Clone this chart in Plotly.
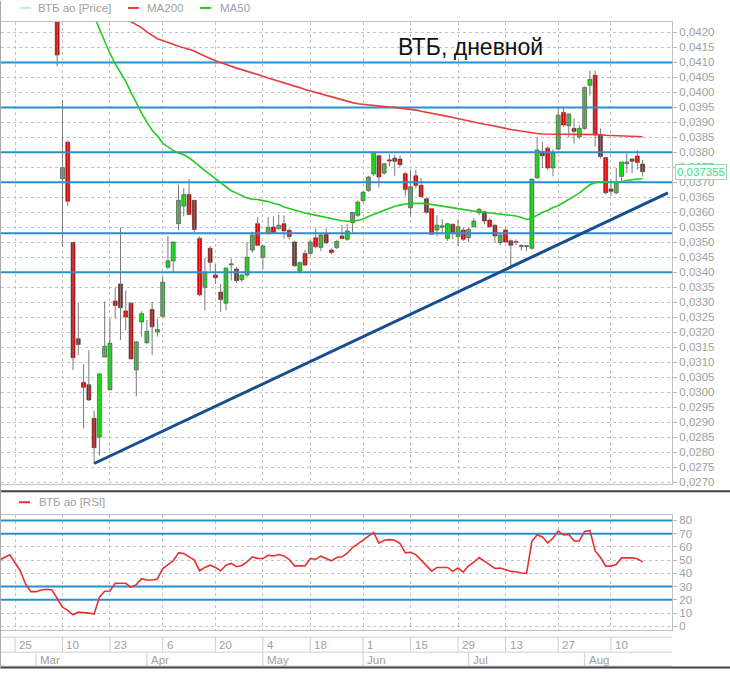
import pandas as pd
import plotly.graph_objects as go

# ---------------- data ----------------
holidays = ["2020-02-24", "2020-03-09", "2020-05-01", "2020-05-11",
            "2020-06-12", "2020-06-24", "2020-07-01"]
calendar = [d.strftime("%Y-%m-%d") for d in pd.bdate_range("2020-02-19", "2020-08-18")
            if d.strftime("%Y-%m-%d") not in holidays]
pos = {d: i for i, d in enumerate(calendar)}

candle_start = "2020-03-06"
opens = [
    .04290, .03712, .03834, .03499, .03178, .03033, .03025, .02913, .02850, .03117,
    .03008, .03304, .03361, .03271, .03297, .03074, .03234, .03165, .03276, .03201,
    .03253, .03417, .03438, .03562, .03621, .03659, .03640, .03513, .03350, .03480,
    .03391, .03334, .03297, .03425, .03411, .03375, .03391, .03474, .03562, .03450,
    .03532, .03551, .03546, .03562, .03540, .03501, .03404, .03463, .03463, .03515,
    .03483, .03527, .03474, .03483, .03521, .03510, .03566, .03590, .03639, .03673,
    .03728, .03789, .03731, .03775, .03781, .03778, .03729, .03615, .03722, .03690,
    .03645, .03612, .03541, .03550, .03513, .03560, .03519, .03541, .03516, .03552,
    .03599, .03602, .03574, .03557, .03499, .03541, .03505, .03500, .03487, .03486,
    .03480, .03715, .03803, .03814, .03748, .03811, .03933, .03889, .03880, .03852,
    .03880, .04024, .04057, .03858, .03783, .03678, .03665, .03720, .03762, .03778,
    .03788, .03761]
highs = [
    .04330, .03974, .03840, .03502, .03298, .03093, .03140, .02938, .03061, .03303,
    .03245, .03350, .03549, .03339, .03300, .03168, .03270, .03240, .03301, .03245,
    .03387, .03521, .03501, .03692, .03681, .03711, .03640, .03520, .03447, .03488,
    .03427, .03361, .03414, .03446, .03417, .03394, .03501, .03535, .03584, .03490,
    .03584, .03587, .03592, .03590, .03546, .03506, .03436, .03475, .03508, .03546,
    .03530, .03546, .03480, .03508, .03557, .03560, .03602, .03640, .03670, .03722,
    .03802, .03792, .03765, .03794, .03792, .03790, .03735, .03742, .03742, .03715,
    .03650, .03615, .03590, .03577, .03565, .03563, .03577, .03550, .03550, .03580,
    .03615, .03606, .03580, .03560, .03528, .03550, .03510, .03510, .03494, .03490,
    .03711, .03850, .03836, .03820, .03810, .03952, .03952, .03930, .03913, .03890,
    .04020, .04073, .04073, .03880, .03785, .03709, .03748, .03768, .03797, .03780,
    .03808, .03775]
lows = [
    .04087, .03484, .03621, .03074, .03124, .02879, .02970, .02762, .02789, .03117,
    .03008, .03245, .03174, .03207, .03111, .02986, .03185, .03160, .03124, .03185,
    .03250, .03410, .03398, .03540, .03587, .03593, .03534, .03320, .03273, .03405,
    .03361, .03268, .03273, .03372, .03365, .03367, .03383, .03465, .03488, .03411,
    .03525, .03528, .03540, .03512, .03510, .03418, .03396, .03420, .03455, .03480,
    .03470, .03494, .03460, .03478, .03510, .03505, .03532, .03585, .03632, .03668,
    .03722, .03683, .03725, .03753, .03722, .03750, .03654, .03585, .03680, .03650,
    .03595, .03527, .03520, .03527, .03505, .03510, .03488, .03505, .03500, .03550,
    .03590, .03560, .03548, .03500, .03490, .03498, .03422, .03490, .03472, .03470,
    .03475, .03712, .03748, .03740, .03720, .03808, .03885, .03850, .03830, .03845,
    .03875, .03990, .03819, .03780, .03660, .03654, .03660, .03703, .03731, .03730,
    .03742, .03720]
closes = [
    .04125, .03749, .03637, .03115, .03159, .03016, .02974, .02815, .03061, .03153,
    .03163, .03289, .03282, .03251, .03111, .03168, .03262, .03203, .03218, .03209,
    .03367, .03438, .03501, .03640, .03659, .03593, .03543, .03325, .03400, .03433,
    .03382, .03309, .03414, .03428, .03372, .03391, .03450, .03524, .03490, .03488,
    .03549, .03532, .03557, .03538, .03519, .03422, .03432, .03424, .03501, .03485,
    .03524, .03498, .03466, .03503, .03513, .03538, .03599, .03634, .03667, .03718,
    .03801, .03718, .03762, .03771, .03770, .03759, .03676, .03685, .03690, .03652,
    .03600, .03527, .03557, .03555, .03562, .03532, .03552, .03510, .03543, .03571,
    .03610, .03571, .03552, .03521, .03524, .03501, .03490, .03501, .03486, .03487,
    .03711, .03808, .03789, .03748, .03797, .03924, .03891, .03928, .03870, .03880,
    .04016, .04043, .03858, .03786, .03665, .03670, .03703, .03768, .03768, .03770,
    .03766, .037355]

ma200_start = "2020-03-26"
ma200 = [
    .04245, .04235, .04225, .04216, .04202, .04189, .04179, .04173, .04166, .04159,
    .04154, .04149, .04144, .04138, .04129, .04121, .04113, .04106, .04100, .04093,
    .04086, .04081, .04076, .04071, .04065, .04059, .04054, .04048, .04043, .04038,
    .04033, .04028, .04023, .04016, .04010, .04005, .03999, .03994, .03989, .03984,
    .03979, .03974, .03970, .03966, .03962, .03960, .03957, .03955, .03954, .03953,
    .03951, .03950, .03948, .03946, .03944, .03941, .03937, .03934, .03931, .03927,
    .03923, .03920, .03916, .03912, .03909, .03905, .03902, .03898, .03894, .03891,
    .03888, .03884, .03880, .03876, .03873, .03870, .03867, .03865, .03863, .03861,
    .03861, .03860, .03860, .03860, .03861, .03861, .03861, .03861, .03861, .03860,
    .03859, .03857, .03856, .03855, .03855, .03854, .03853, .03853, .03852]

ma50_start = "2020-03-17"
ma50 = [
    .04338, .04255, .04212, .04169, .04130, .04095, .04067, .04037, .04000, .03964,
    .03931, .03901, .03874, .03855, .03831, .03818, .03806, .03798, .03792, .03782,
    .03769, .03754, .03739, .03726, .03712, .03699, .03684, .03672, .03664, .03656,
    .03648, .03644, .03643, .03639, .03636, .03630, .03626, .03618, .03613, .03607,
    .03601, .03598, .03594, .03590, .03587, .03583, .03579, .03576, .03572, .03570,
    .03570, .03573, .03578, .03586, .03593, .03600, .03606, .03613, .03620, .03624,
    .03628, .03629, .03630, .03630, .03629, .03626, .03623, .03621, .03617, .03615,
    .03611, .03608, .03606, .03604, .03602, .03600, .03599, .03596, .03593, .03592,
    .03590, .03588, .03583, .03576, .03580, .03590, .03600, .03606, .03616, .03622,
    .03632, .03644, .03654, .03664, .03679, .03692, .03699, .03701, .03702, .03702,
    .03702, .03702, .03706, .03709, .03711, .03712]

rsi_start = "2020-02-19"
rsi = [
    50, 52, 54, 48, 42, 32, 26.2, 26.2, 27.5, 28,
    27.5, 21, 14.5, 12, 8.7, 10.7, 10.5, 10, 9.2, 22,
    26.5, 26.7, 32.5, 32.5, 32.5, 29.5, 31.5, 36, 35, 35,
    35.7, 43.7, 46.5, 49.5, 55.5, 55, 52.5, 50, 42, 44.5,
    46.2, 44.5, 42, 46.2, 47.5, 45, 46, 48.7, 52.5, 51.2,
    51.2, 53.7, 53.2, 54.2, 53.2, 50.5, 45.7, 45.7, 45.7, 51.2,
    50.7, 53, 51, 49.5, 52, 52.5, 55.2, 59.5, 62.3, 65,
    68, 71, 62.8, 65, 65.5, 65, 62.5, 55.5, 56, 54.2,
    50, 45.5, 41.7, 44.5, 44.5, 44.5, 41.5, 44, 41, 45.7,
    48.5, 52, 49.2, 46.3, 43.7, 44, 42.5, 41.5, 41.2, 40.3,
    40, 64.2, 69.2, 67.5, 63, 66.5, 72, 69, 69.5, 64.5,
    64.5, 71.7, 72.5, 57, 52, 45.5, 45.5, 46.7, 51.7, 51.7,
    51.7, 51, 48.7]

price_levels = [0.0410, 0.0395, 0.0380, 0.0370, 0.0353, 0.0340]
rsi_levels = [80, 70, 30, 20]
trend_dates = ["2020-03-18", "2020-08-18"]
trend_extra = [0, 4.8]
trend_values = [0.02762, 0.03665]

day_tick_dates = ["2020-02-25", "2020-03-10", "2020-03-23", "2020-04-06", "2020-04-20",
                  "2020-05-04", "2020-05-18", "2020-06-01", "2020-06-15", "2020-06-29",
                  "2020-07-13", "2020-07-27", "2020-08-10"]
month_tick_dates = ["2020-03-02", "2020-04-01", "2020-05-04", "2020-06-01",
                    "2020-07-02", "2020-08-03"]
month_labels = ["Mar", "Apr", "May", "Jun", "Jul", "Aug"]
price_ticks = [round(0.0270 + 0.0005 * k, 4) for k in range(31)]
rsi_ticks = list(range(0, 90, 10))

title_text = "ВТБ, дневной"
last_label = "0,037355"

# ---------------- geometry helpers ----------------
W, H = 730, 673
def px(x):
    return x / W
def py(y):
    return 1 - y / H

def series_x(start, n):
    s = pos[start]
    return list(range(s, s + n))

cx = series_x(candle_start, len(opens))
day_ticks = [pos[d] for d in day_tick_dates]
day_labels = [str(int(d[-2:])) for d in day_tick_dates]
month_ticks = [pos[d] for d in month_tick_dates]

x_left = pos["2020-02-25"] - 2.655
x_right = pos["2020-02-25"] + 124.57

GREEN = "#19f019"
RED = "#ee0000"
MA_RED = "#e83c3c"
MA_GREEN = "#22cc22"
BLUE = "#2a8fd0"
GRID = "#c4c4c4"
TXT = "#a0a0a0"
FONT = "Liberation Sans, Arial, sans-serif"

fig = go.Figure()

# horizontal level lines (drawn first, under the candles, above the grid)
for lv in price_levels:
    fig.add_trace(go.Scatter(x=[x_left, x_right], y=[lv, lv], mode="lines",
                             line=dict(color=BLUE, width=2), xaxis="x", yaxis="y",
                             hoverinfo="skip", showlegend=False))
for lv in rsi_levels:
    fig.add_trace(go.Scatter(x=[x_left, x_right], y=[lv, lv], mode="lines",
                             line=dict(color=BLUE, width=2), xaxis="x2", yaxis="y2",
                             hoverinfo="skip", showlegend=False))

# wicks
wx, wy = [], []
for x, lo, hi in zip(cx, lows, highs):
    wx += [x, x, None]
    wy += [lo, hi, None]
fig.add_trace(go.Scatter(x=wx, y=wy, mode="lines", line=dict(color="#7a7a7a", width=1),
                         xaxis="x", yaxis="y", hoverinfo="skip", showlegend=False))
# bodies
base = [min(o, c) for o, c in zip(opens, closes)]
height = [max(abs(c - o), 0.00003) for o, c in zip(opens, closes)]
colors = [GREEN if c >= o else RED for o, c in zip(opens, closes)]
fig.add_trace(go.Bar(x=cx, y=height, base=base, width=0.74,
                     marker=dict(color=colors, line=dict(color="#303030", width=0.6)),
                     xaxis="x", yaxis="y", showlegend=False))
# moving averages
fig.add_trace(go.Scatter(x=series_x(ma200_start, len(ma200)), y=ma200, mode="lines",
                         line=dict(color=MA_RED, width=1.6), xaxis="x", yaxis="y", showlegend=False))
fig.add_trace(go.Scatter(x=series_x(ma50_start, len(ma50)), y=ma50, mode="lines",
                         line=dict(color=MA_GREEN, width=1.6), xaxis="x", yaxis="y", showlegend=False))
# trend line
fig.add_trace(go.Scatter(x=[pos[d] + e for d, e in zip(trend_dates, trend_extra)], y=trend_values,
                         mode="lines", line=dict(color="#164f8f", width=3),
                         xaxis="x", yaxis="y", showlegend=False))
# RSI
fig.add_trace(go.Scatter(x=series_x(rsi_start, len(rsi)), y=rsi, mode="lines",
                         line=dict(color="#e83030", width=1.6), xaxis="x2", yaxis="y2", showlegend=False))

shapes = []
# date band cell borders
for yy in [641, 656, 670]:
    shapes.append(dict(type="line", xref="paper", yref="paper", x0=px(1), x1=px(672),
                       y0=py(yy), y1=py(yy), line=dict(color="#cfcfcf", width=1)))
for t in day_ticks:
    shapes.append(dict(type="line", xref="x", yref="paper", x0=t, x1=t, y0=py(641), y1=py(656),
                       line=dict(color="#cfcfcf", width=1)))
for t in month_ticks:
    shapes.append(dict(type="line", xref="x", yref="paper", x0=t, x1=t, y0=py(656), y1=py(670),
                       line=dict(color="#cfcfcf", width=1)))
# pane separators / frame
for yy in [494, 671.5]:
    shapes.append(dict(type="line", xref="paper", yref="paper", x0=0, x1=1, y0=py(yy), y1=py(yy),
                       line=dict(color="#454545", width=2)))
shapes.append(dict(type="line", xref="paper", yref="paper", x0=px(0.5), x1=px(0.5), y0=0, y1=1,
                   line=dict(color="#a8a8a8", width=1)))

# legend samples
legend_items = [("ВТБ ао [Price]", "#7fe8a8", 1, 20, 36, 7),
                ("MA200", MA_RED, 2, 128, 145, 7),
                ("MA50", MA_GREEN, 2, 200, 218, 7),
                ("ВТБ ао [RSI]", "#e83030", 2, 19, 37, 505)]
annotations = []
for text, col, wdt, lx, tx, ly in legend_items:
    shapes.append(dict(type="line", xref="paper", yref="paper", x0=px(lx), x1=px(lx + 11),
                       y0=py(ly), y1=py(ly), line=dict(color=col, width=wdt)))
    annotations.append(dict(text=text, xref="paper", yref="paper", x=px(tx), y=py(ly),
                            xanchor="left", yanchor="middle", showarrow=False,
                            font=dict(family=FONT, size=11.5, color=TXT)))

for t, lab in zip(day_ticks, day_labels):
    annotations.append(dict(text=lab, xref="x", yref="paper", x=t, y=py(649), xanchor="left",
                            yanchor="middle", xshift=2, showarrow=False,
                            font=dict(family=FONT, size=11.5, color=TXT)))
for t, lab in zip(month_ticks, month_labels):
    annotations.append(dict(text=lab, xref="x", yref="paper", x=t, y=py(663.5), xanchor="left",
                            yanchor="middle", xshift=2, showarrow=False,
                            font=dict(family=FONT, size=11.5, color=TXT)))

annotations.append(dict(text=title_text, xref="paper", yref="paper", x=px(470), y=py(46),
                        xanchor="center", yanchor="middle", showarrow=False,
                        font=dict(family=FONT, size=23, color="#111111")))
annotations.append(dict(text=last_label, xref="paper", yref="y", x=px(675), y=closes[-1],
                        xanchor="left", yanchor="middle", showarrow=False, bgcolor="white",
                        bordercolor="#9ad8ad", borderwidth=1, borderpad=1,
                        font=dict(family=FONT, size=11.5, color="#3de07a")))

axis_common = dict(showgrid=True, gridcolor=GRID, griddash="dot", gridwidth=1, zeroline=False,
                   showline=True, mirror=True, linecolor="#c0c0c0", linewidth=1)

fig.update_layout(
    width=W, height=H, margin=dict(l=0, r=0, t=0, b=0),
    paper_bgcolor="white", plot_bgcolor="white", showlegend=False,
    separators=", ", hovermode=False,
    shapes=shapes, annotations=annotations,
    xaxis=dict(domain=[px(1), px(672)], range=[x_left, x_right], anchor="y",
               tickmode="array", tickvals=day_ticks, showticklabels=False, ticks="", **axis_common),
    xaxis2=dict(domain=[px(1), px(672)], range=[x_left, x_right], anchor="y2", matches="x",
                tickmode="array", tickvals=day_ticks, showticklabels=False, ticks="", **axis_common),
    yaxis=dict(domain=[py(487), py(21)], range=[0.026924, 0.042354],
               side="right", anchor="x", tickmode="array", tickvals=price_ticks, tickformat=".4f",
               ticks="outside", ticklen=4, tickcolor="#b8b8b8",
               tickfont=dict(family=FONT, size=11.5, color=TXT), **axis_common),
    yaxis2=dict(domain=[py(634), py(518)], range=[-3, 84], side="right", anchor="x2",
                tickmode="array", tickvals=rsi_ticks, ticks="outside", ticklen=4, tickcolor="#b8b8b8",
                tickfont=dict(family=FONT, size=11.5, color=TXT), **axis_common),
)

fig.write_html("out.html", config={"displayModeBar": False},
               post_script="document.body.style.margin='0';document.body.style.padding='0';"
                           "document.body.style.overflow='hidden';")
